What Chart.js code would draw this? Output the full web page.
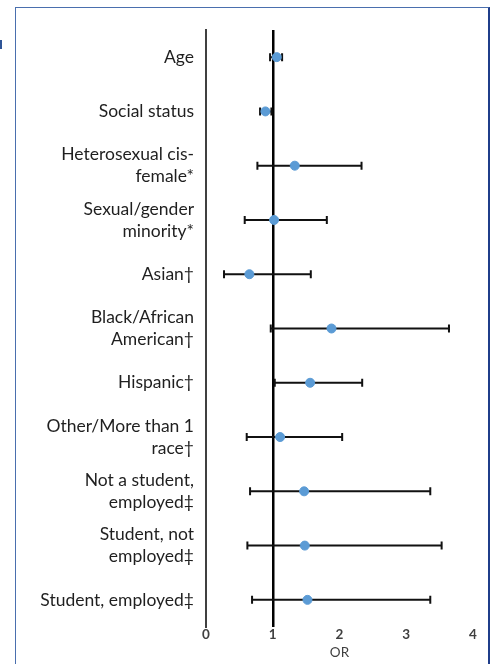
<!DOCTYPE html>
<html lang="en">
<head>
    <meta charset="UTF-8">
    <title>Odds ratios</title>
    <script src="https://cdn.jsdelivr.net/npm/chart.js"></script>
    <style>
        html, body {
            margin: 0;
            padding: 0;
            background: #ffffff;
            overflow: hidden;
        }
        .frame {
            position: absolute;
            left: 15px;
            top: 7px;
            width: 472px;
            height: 700px;
            border: 1.5px solid #4a6fae;
            border-right: 2px solid #1f3d8a;
        }
        .mark {
            position: absolute;
            left: 0;
            top: 40px;
            width: 2px;
            height: 9px;
            background: #2f5597;
        }
        .chart-box {
            position: absolute;
            left: 0;
            top: 0;
            width: 490px;
            height: 664px;
        }
    </style>
</head>
<body>
    <div class="frame"></div>
    <div class="mark"></div>
    <div class="chart-box">
        <canvas id="forestChart"></canvas>
    </div>

    <script>
        // categories, top to bottom
        const categories = [
            ['Age'],
            ['Social status'],
            ['Heterosexual cis-', 'female*'],
            ['Sexual/gender', 'minority*'],
            ['Asian\u2020'],
            ['Black/African', 'American\u2020'],
            ['Hispanic\u2020'],
            ['Other/More than 1', 'race\u2020'],
            ['Not a student,', 'employed\u2021'],
            ['Student, not', 'employed\u2021'],
            ['Student, employed\u2021']
        ];
        // odds ratios and 95% CI bounds
        const oddsRatio = [1.06, 0.89, 1.33, 1.02, 0.65, 1.88, 1.56, 1.11, 1.47, 1.48, 1.52];
        const ciLow     = [0.96, 0.81, 0.77, 0.58, 0.27, 0.97, 1.03, 0.61, 0.66, 0.62, 0.69];
        const ciHigh    = [1.14, 0.98, 2.33, 1.81, 1.57, 3.64, 2.34, 2.04, 3.36, 3.53, 3.36];
        const xTicks = [0, 1, 2, 3, 4];

        // draws the CI whiskers under the points
        const errorBars = {
            id: 'errorBars',
            beforeDatasetsDraw(chart) {
                const ctx = chart.ctx;
                const xs = chart.scales.x;
                const ys = chart.scales.y;
                ctx.save();
                ctx.strokeStyle = '#111111';
                ctx.lineWidth = 2;
                for (let i = 0; i < oddsRatio.length; i++) {
                    const y = ys.getPixelForValue(i);
                    const x1 = xs.getPixelForValue(ciLow[i]);
                    const x2 = xs.getPixelForValue(ciHigh[i]);
                    ctx.beginPath();
                    ctx.moveTo(x1, y);
                    ctx.lineTo(x2, y);
                    ctx.moveTo(x1, y - 4);
                    ctx.lineTo(x1, y + 4);
                    ctx.moveTo(x2, y - 4);
                    ctx.lineTo(x2, y + 4);
                    ctx.stroke();
                }
                ctx.restore();
            }
        };

        const ctx = document.getElementById('forestChart').getContext('2d');
        new Chart(ctx, {
            type: 'scatter',
            data: {
                labels: categories,
                datasets: [{
                    data: oddsRatio.map((v, i) => ({ x: v, y: i })),
                    backgroundColor: '#5b9bd5',
                    borderColor: '#5b9bd5',
                    pointRadius: 4.5,
                    pointHoverRadius: 4.5
                }]
            },
            options: {
                responsive: true,
                maintainAspectRatio: false,
                animation: false,
                layout: { padding: { top: 30, right: 17, left: 0, bottom: 0 } },
                plugins: {
                    legend: { display: false },
                    tooltip: { enabled: false }
                },
                scales: {
                    x: {
                        type: 'linear',
                        min: 0,
                        max: 4,
                        afterBuildTicks: (scale) => {
                            scale.ticks = xTicks.map(v => ({ value: v }));
                        },
                        afterFit: (scale) => { scale.height = 37; },
                        border: { display: false },
                        grid: {
                            drawTicks: false,
                            color: (c) => c.tick && c.tick.value === 1 ? '#000000' : 'rgba(0,0,0,0)',
                            lineWidth: 2.5
                        },
                        ticks: {
                            padding: 0,
                            color: '#404040',
                            font: { family: 'Lato', size: 13.5, weight: 'bold' }
                        },
                        title: {
                            display: true,
                            text: 'OR',
                            color: '#404040',
                            padding: { top: 0, bottom: 3 },
                            font: { family: 'Lato', size: 13.5 }
                        }
                    },
                    y: {
                        type: 'category',
                        labels: categories,
                        offset: true,
                        afterFit: (scale) => { scale.width = 206; },
                        border: { display: true, color: '#404040', width: 2 },
                        grid: { display: false, drawTicks: false },
                        ticks: {
                            padding: 12,
                            color: '#1f1f1f',
                            font: { family: 'Lato', size: 17.5, lineHeight: 1.26 }
                        }
                    }
                }
            },
            plugins: [errorBars]
        });
    </script>
</body>
</html>
